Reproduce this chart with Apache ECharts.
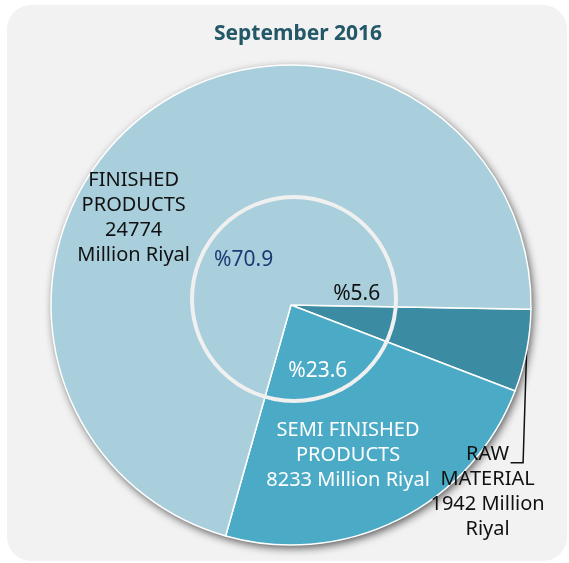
<!DOCTYPE html>
<html>
<head>
<meta charset="utf-8">
<script src="https://cdn.jsdelivr.net/npm/echarts@6/dist/echarts.min.js"></script>
<style>
html, body { margin: 0; padding: 0; background: #fff; }
#chart { position: absolute; left: 7px; top: 5px; width: 560px; height: 556px; background: #f2f2f2; border-radius: 24px; overflow: hidden; }
</style>
</head>
<body>
<div id="chart"></div>
<script>
// data
var categories = ['RAW MATERIAL', 'SEMI FINISHED PRODUCTS', 'FINISHED PRODUCTS'];
var values = [1942, 8233, 24774];
var nameLabels = [
    'RAW\nMATERIAL\n1942 Million\nRiyal',
    'SEMI FINISHED\nPRODUCTS\n8233 Million Riyal',
    'FINISHED\nPRODUCTS\n24774\nMillion Riyal'
];
var titleText = 'September 2016';

var total = values.reduce(function (a, b) { return a + b; }, 0);
var sliceColors = ['#3b8ba2', '#4babc6', '#a9cfdc'];
var nameColors = ['#111', '#fff', '#111'];
var pctColors = ['#111', '#fff', '#1b3a74'];
var FONT = 'Noto Sans';
var CENTER = [284, 300];

// label shifts (name labels sit inside, raw material goes outside)
var nameShift = [null, { dx: 2, dy: 40 }, { dx: -84, dy: 12 }];
var pctShift = [{ dx: -4, dy: -25 }, { dx: -5, dy: 3 }, { dx: -5, dy: 12 }];

var mainData = values.map(function (v, i) {
    return {
        name: categories[i],
        value: v,
        itemStyle: { color: sliceColors[i] },
        label: {
            position: i === 0 ? 'outside' : 'inside',
            color: nameColors[i],
            formatter: nameLabels[i]
        },
        labelLine: { show: i === 0 }
    };
});

var pctData = values.map(function (v, i) {
    return {
        name: categories[i],
        value: v,
        label: { color: pctColors[i], formatter: '%' + (v / total * 100).toFixed(1) }
    };
});

var chart = echarts.init(document.getElementById('chart'), null, { renderer: 'canvas' });
chart.setOption({
    animation: false,
    title: {
        text: titleText,
        left: 286,
        top: 14,
        textAlign: 'center',
        textStyle: { fontFamily: FONT, fontSize: 21, fontWeight: 'bold', color: '#235868' }
    },
    series: [
        {
            // shadow disc under the pie
            type: 'pie',
            center: CENTER,
            radius: 240,
            silent: true,
            label: { show: false },
            labelLine: { show: false },
            itemStyle: { color: '#a9cfdc', shadowBlur: 8, shadowColor: 'rgba(0,0,0,0.65)', shadowOffsetX: 2, shadowOffsetY: 3 },
            data: [total]
        },
        {
            type: 'pie',
            center: CENTER,
            radius: 240,
            startAngle: -1,
            avoidLabelOverlap: false,
            silent: true,
            itemStyle: { borderColor: '#fff', borderWidth: 1.5 },
            label: { fontFamily: FONT, fontSize: 20, lineHeight: 25, align: 'center' },
            labelLine: { lineStyle: { color: '#111', width: 1.5 }, smooth: false },
            labelLayout: function (p) {
                if (p.dataIndex === 0 && p.labelLinePoints) {
                    var s = p.labelLinePoints[0];
                    return {
                        x: s[0] - 39,
                        y: s[1] + 141,
                        align: 'center',
                        verticalAlign: 'middle',
                        labelLinePoints: [[s[0], s[1]], [s[0] - 3.5, s[1] + 112], [s[0] - 16, s[1] + 112]]
                    };
                }
                return nameShift[p.dataIndex] || {};
            },
            data: mainData
        },
        {
            // inner white ring
            type: 'pie',
            center: [287, 294],
            radius: [100, 104],
            silent: true,
            label: { show: false },
            labelLine: { show: false },
            itemStyle: { color: '#f0f0f0' },
            data: [1]
        },
        {
            // percentage labels
            type: 'pie',
            center: CENTER,
            radius: 136,
            startAngle: -1,
            avoidLabelOverlap: false,
            silent: true,
            itemStyle: { color: 'rgba(0,0,0,0)', borderWidth: 0 },
            label: { position: 'inside', fontFamily: FONT, fontSize: 21 },
            labelLine: { show: false },
            labelLayout: function (p) { return pctShift[p.dataIndex]; },
            data: pctData
        }
    ]
});
</script>
</body>
</html>
